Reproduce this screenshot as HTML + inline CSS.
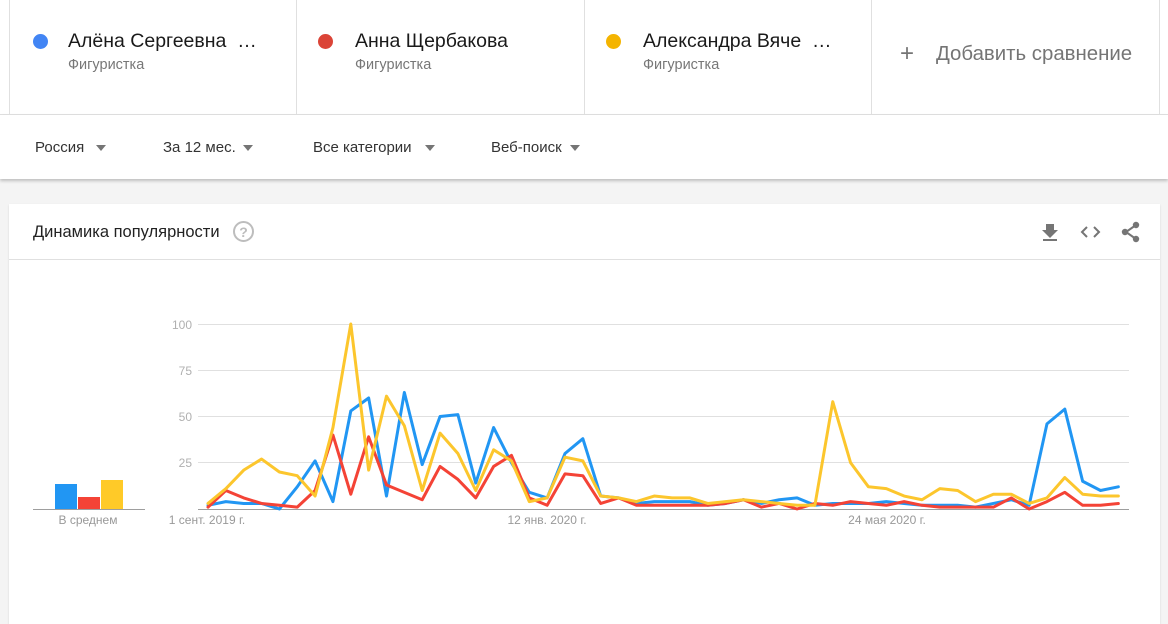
<!DOCTYPE html>
<html><head><meta charset="utf-8">
<style>
html,body{margin:0;padding:0;}
body{width:1168px;height:596px;overflow:hidden;background:#f4f4f4;font-family:"Liberation Sans","Noto Sans CJK SC",sans-serif;position:relative;}
.hdr{position:absolute;left:0;top:0;width:1168px;height:114px;background:#fff;border-bottom:1px solid #e0e0e0;}
.vl{position:absolute;top:0;width:1px;height:114px;background:#e0e0e0;}
.dot{position:absolute;width:15px;height:15px;border-radius:50%;}
.nm{position:absolute;font-size:19.5px;color:#1a1a1a;white-space:nowrap;}
.sub{position:absolute;font-size:14.5px;color:#777;white-space:nowrap;}
.filt{position:absolute;left:0;top:115px;width:1168px;height:64px;background:#fff;box-shadow:0 2px 3px rgba(0,0,0,0.22);}
.ft{position:absolute;top:139px;font-size:15px;color:#333;white-space:nowrap;}
.tri{position:absolute;top:145px;width:0;height:0;border-left:5.5px solid transparent;border-right:5.5px solid transparent;border-top:6px solid #757575;}
.card{position:absolute;left:9px;top:204px;width:1151px;height:420px;background:#fff;box-shadow:0 1px 2px rgba(0,0,0,0.12);}
</style></head><body>
<div class="hdr">
  <div class="vl" style="left:9px"></div>
  <div class="vl" style="left:296px"></div>
  <div class="vl" style="left:584px"></div>
  <div class="vl" style="left:871px"></div>
  <div class="vl" style="left:1159px"></div>
  <div class="dot" style="left:33px;top:34px;background:#4285f4"></div>
  <div class="nm" style="left:68px;top:30px">Алёна Сергеевна&nbsp; …</div>
  <div class="sub" style="left:68px;top:57px">Фигуристка</div>
  <div class="dot" style="left:318px;top:34px;background:#db4437"></div>
  <div class="nm" style="left:355px;top:30px">Анна Щербакова</div>
  <div class="sub" style="left:355px;top:57px">Фигуристка</div>
  <div class="dot" style="left:606px;top:34px;background:#f4b400"></div>
  <div class="nm" style="left:643px;top:30px">Александра Вяче&nbsp; …</div>
  <div class="sub" style="left:643px;top:57px">Фигуристка</div>
  <div style="position:absolute;left:900px;top:42px;font-size:24px;color:#757575;line-height:24px">+</div>
  <div style="position:absolute;left:936px;top:43px;font-size:20.4px;color:#757575;white-space:nowrap">Добавить сравнение</div>
</div>
<div class="filt"></div>
<div class="ft" style="left:35px">Россия</div><div class="tri" style="left:96px"></div>
<div class="ft" style="left:163px">За 12 мес.</div><div class="tri" style="left:243px"></div>
<div class="ft" style="left:313px">Все категории</div><div class="tri" style="left:425px"></div>
<div class="ft" style="left:491px">Веб-поиск</div><div class="tri" style="left:570px"></div>

<div class="card"></div>
<svg style="position:absolute;left:0;top:0" width="1168" height="596" viewBox="0 0 1168 596">
  <text x="33" y="237" font-size="16.5" fill="#222" font-family="Liberation Sans, sans-serif">Динамика популярности</text>
  <circle cx="243.5" cy="231.5" r="9.5" fill="none" stroke="#bdbdbd" stroke-width="2"/>
  <text x="243.5" y="237" font-size="14" fill="#bdbdbd" text-anchor="middle" font-weight="bold" font-family="Liberation Sans, sans-serif">?</text>
  <line x1="9" y1="259.5" x2="1160" y2="259.5" stroke="#e0e0e0" stroke-width="1"/>
  <!-- icons -->
  <g fill="#757575">
    <path d="M1046 224h8v6h4l-8 8-8-8h4z"/>
    <rect x="1043" y="239" width="14" height="2"/>
  </g>
  <g fill="none" stroke="#757575" stroke-width="2">
    <path d="M1087 227l-5 5 5 5"/>
    <path d="M1094 227l5 5-5 5"/>
    <path d="M1136 225l-10 7 10 7"/>
  </g>
  <g fill="#757575">
    <circle cx="1136" cy="225" r="3.2"/>
    <circle cx="1125" cy="232" r="3.2"/>
    <circle cx="1136" cy="239" r="3.2"/>
  </g>
  <!-- grid -->
  <g stroke="#e0e0e0" stroke-width="1">
    <line x1="198" y1="324.5" x2="1129" y2="324.5"/>
    <line x1="198" y1="370.5" x2="1129" y2="370.5"/>
    <line x1="198" y1="416.5" x2="1129" y2="416.5"/>
    <line x1="198" y1="462.5" x2="1129" y2="462.5"/>
  </g>
  <line x1="198" y1="509.5" x2="1129" y2="509.5" stroke="#9e9e9e" stroke-width="1"/>
  <line x1="33" y1="509.5" x2="145" y2="509.5" stroke="#9e9e9e" stroke-width="1"/>
  <g font-size="12" fill="#b0b0b0" text-anchor="end" font-family="Liberation Sans, sans-serif">
    <text x="192" y="329">100</text>
    <text x="192" y="375">75</text>
    <text x="192" y="421">50</text>
    <text x="192" y="467">25</text>
  </g>
  <g font-size="12" fill="#999" text-anchor="middle" font-family="Liberation Sans, sans-serif">
    <text x="88" y="524">В среднем</text>
    <text x="207" y="524">1 сент. 2019 г.</text>
    <text x="547" y="524">12 янв. 2020 г.</text>
    <text x="887" y="524">24 мая 2020 г.</text>
  </g>
  <!-- average bars -->
  <rect x="55" y="484" width="22" height="25" fill="#2196f3"/>
  <rect x="78" y="497" width="22" height="12" fill="#f44336"/>
  <rect x="101" y="480" width="22" height="29" fill="#ffca28"/>
  <!-- series -->
  <g transform="translate(208,509) scale(17.85,-1.85)" fill="none" stroke-width="3" stroke-linejoin="round" stroke-linecap="round">
    <polyline vector-effect="non-scaling-stroke" stroke="#2196f3" points="0,2 1,4 2,3 3,3 4,0 5,12 6,26 7,4 8,53 9,60 10,7 11,63 12,24 13,50 14,51 15,14 16,44 17,25 18,9 19,6 20,30 21,38 22,7 23,6 24,3 25,4 26,4 27,4 28,2 29,3 30,5 31,3 32,5 33,6 34,2 35,3 36,3 37,3 38,4 39,3 40,2 41,2 42,2 43,1 44,3 45,5 46,2 47,46 48,54 49,15 50,10 51,12"/>
    <polyline vector-effect="non-scaling-stroke" stroke="#f44336" points="0,1 1,10 2,6 3,3 4,2 5,1 6,10 7,40 8,8 9,39 10,13 11,9 12,5 13,23 14,16 15,6 16,23 17,29 18,6 19,2 20,19 21,18 22,3 23,6 24,2 25,2 26,2 27,2 28,2 29,3 30,5 31,1 32,3 33,0 34,3 35,2 36,4 37,3 38,2 39,4 40,2 41,1 42,1 43,1 44,1 45,6 46,0 47,4 48,9 49,2 50,2 51,3"/>
    <polyline vector-effect="non-scaling-stroke" stroke="#fcc62d" points="0,3 1,11 2,21 3,27 4,20 5,18 6,7 7,44 8,100 9,21 10,61 11,45 12,10 13,41 14,30 15,10 16,32 17,26 18,4 19,6 20,28 21,26 22,7 23,6 24,4 25,7 26,6 27,6 28,3 29,4 30,5 31,4 32,3 33,2 34,2 35,58 36,25 37,12 38,11 39,7 40,5 41,11 42,10 43,4 44,8 45,8 46,3 47,6 48,17 49,8 50,7 51,7"/>
  </g>
</svg>
</body></html>
